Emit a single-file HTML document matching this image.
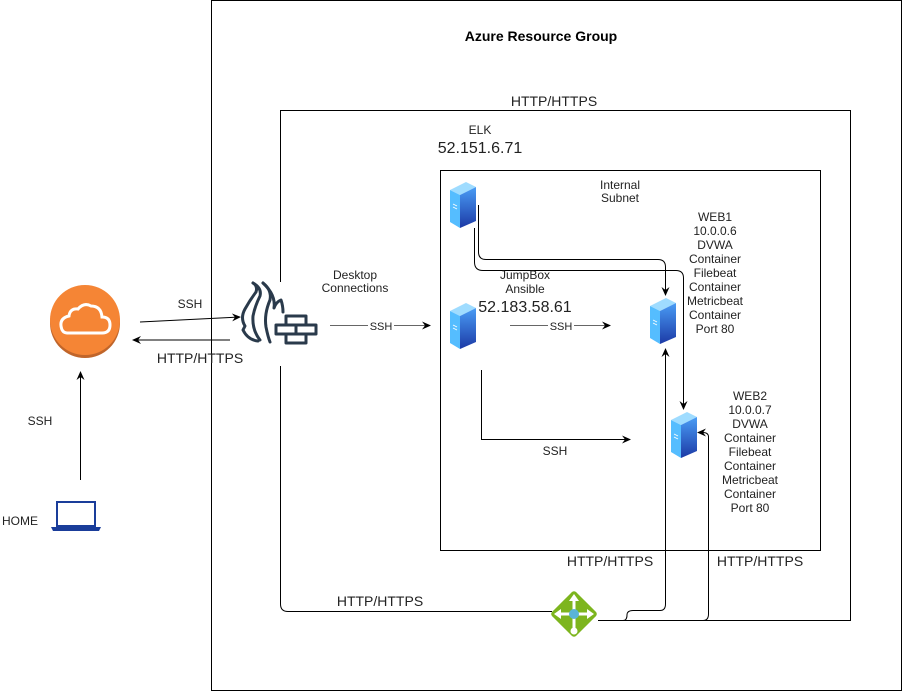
<!DOCTYPE html>
<html><head><meta charset="utf-8"><style>
html,body{margin:0;padding:0;background:#fff;}
svg{display:block;font-family:"Liberation Sans",sans-serif;}
</style></head><body>
<svg width="902" height="691" viewBox="0 0 902 691" xmlns="http://www.w3.org/2000/svg">
<defs>
<marker id="a" markerWidth="10" markerHeight="10" refX="8" refY="5" orient="auto" markerUnits="userSpaceOnUse"><path d="M0,1 L9,5 L0,9 L3,5 Z" fill="#000"/></marker>
<linearGradient id="fg" x1="0" y1="0" x2="0" y2="1"><stop offset="0" stop-color="#4a9cf5"/><stop offset="1" stop-color="#1c3aa6"/></linearGradient>
<g id="srv">
<polygon points="0,8 16,0 26,5 10,13" fill="#9fdcff"/>
<polygon points="0,8 10,13 10,46 0,40" fill="#55bdff"/>
<polygon points="10,13 26,5 26,39 10,46" fill="url(#fg)"/>
<line x1="3" y1="22" x2="7" y2="24" stroke="#fff" stroke-width="0.8"/>
<line x1="3" y1="25" x2="7" y2="27" stroke="#fff" stroke-width="0.8"/>
</g>
</defs>
<g fill="none" stroke="#000" stroke-width="1">
<rect x="211.5" y="0.5" width="690" height="690"/>
<path d="M280.5,282 V110.5 H850.5 V620.5 H600"/>
<rect x="440.5" y="170.5" width="380" height="380"/>
<line x1="140" y1="322" x2="240" y2="317" marker-end="url(#a)"/>
<line x1="230" y1="340" x2="133" y2="340" marker-end="url(#a)"/>
<line x1="80.5" y1="480" x2="80.5" y2="372" marker-end="url(#a)"/>
<line x1="330" y1="325.5" x2="430" y2="325.5" stroke="#666" marker-end="url(#a)"/>
<line x1="510" y1="325.5" x2="610" y2="325.5" stroke="#666" marker-end="url(#a)"/>
<path d="M481.5,370 V439.5 H630" marker-end="url(#a)"/>
<path d="M478.5,205 V252 Q478.5,259.5 486,259.5 H658 Q665.5,259.5 665.5,267 V295" marker-end="url(#a)"/>
<path d="M474.5,228 V262 Q474.5,270.5 483,270.5 H676 Q683.5,270.5 683.5,278 V409" marker-end="url(#a)"/>
<path d="M280.5,366 V604 Q280.5,611.5 288,611.5 H552"/>
<path d="M598,620.5 H623 Q627,620.5 627,615 Q627,610.5 633,610.5 H660 Q665.5,610.5 665.5,604 V349" marker-end="url(#a)"/>
<path d="M615,620.5 H703 Q708.5,620.5 708.5,614 V437 Q708.5,432.5 703,432.5 H698" marker-end="url(#a)"/>
</g>
<g font-size="12" fill="#222" text-anchor="middle">
<text x="541" y="41" font-weight="bold" font-size="14" fill="#000">Azure Resource Group</text>
<text x="554" y="106" font-size="14">HTTP/HTTPS</text>
<text x="480" y="134">ELK</text>
<text x="480" y="153" font-size="16">52.151.6.71</text>
<text x="620" y="189">Internal</text>
<text x="620" y="202">Subnet</text>
<g><text x="715" y="221">WEB1</text><text x="715" y="235">10.0.0.6</text><text x="715" y="249">DVWA</text><text x="715" y="263">Container</text><text x="715" y="277">Filebeat</text><text x="715" y="291">Container</text><text x="715" y="305">Metricbeat</text><text x="715" y="319">Container</text><text x="715" y="333">Port 80</text></g>
<g><text x="750" y="400">WEB2</text><text x="750" y="414">10.0.0.7</text><text x="750" y="428">DVWA</text><text x="750" y="442">Container</text><text x="750" y="456">Filebeat</text><text x="750" y="470">Container</text><text x="750" y="484">Metricbeat</text><text x="750" y="498">Container</text><text x="750" y="512">Port 80</text></g>
<text x="525" y="279">JumpBox</text>
<text x="525" y="293">Ansible</text>
<text x="525" y="312" font-size="16">52.183.58.61</text>
<text x="355" y="279">Desktop</text>
<text x="355" y="292">Connections</text>
<rect x="368" y="319" width="26" height="13" fill="#fff"/>
<text x="381" y="330" font-size="11">SSH</text>
<rect x="548" y="319" width="26" height="13" fill="#fff"/>
<text x="561" y="330" font-size="11">SSH</text>
<text x="555" y="455">SSH</text>
<text x="190" y="308">SSH</text>
<text x="200" y="363" font-size="14">HTTP/HTTPS</text>
<text x="40" y="425">SSH</text>
<text x="20" y="525" font-size="12">HOME</text>
<text x="610" y="566" font-size="14">HTTP/HTTPS</text>
<text x="760" y="566" font-size="14">HTTP/HTTPS</text>
<text x="380" y="606" font-size="14">HTTP/HTTPS</text>
</g>
<circle cx="85" cy="323" r="35" fill="#c0652a"/>
<circle cx="85" cy="320" r="35" fill="#f58535"/>
<path d="M67,333 H102 Q110,333 110,325 Q110,317 102,317 Q101,306 91,306 Q84,302 78,309 Q70,308 69,316 Q60,318 61,326 Q62,333 67,333 Z" fill="none" stroke="#fff" stroke-width="3"/>
<g fill="none" stroke="#2a3a4b" stroke-width="3" stroke-linecap="round" stroke-linejoin="round">
<path d="M253,283 Q258,286 256,292 Q250,300 245,309 Q240,318 245,326 L243,330 Q248,340 258,341"/>
<path d="M253,283 Q262,288 260,296 Q255,306 253,316 Q252,330 260,340"/>
<path d="M263,283 Q272,290 270,300 Q264,314 266,327 Q268,337 270,342"/>
<path d="M263,283 Q276,295 274,308 Q276,302 281,300 Q283,306 283,312"/>
<rect x="276" y="325" width="20" height="9"/>
<rect x="296" y="325" width="20" height="9"/>
<rect x="286" y="316" width="20" height="9"/>
<rect x="286" y="334" width="20" height="9"/>
</g>
<rect x="57" y="502" width="38" height="24" fill="none" stroke="#1a3d9a" stroke-width="2"/>
<path d="M51,527 H101 L99,531 H53 Z" fill="#1a3d9a"/>
<use href="#srv" x="450" y="182"/>
<use href="#srv" x="450" y="303"/>
<use href="#srv" x="650" y="298"/>
<use href="#srv" x="671" y="412"/>
<g transform="translate(574,614)">
<rect x="-17" y="-17" width="34" height="34" transform="rotate(45)" fill="#7db51e" rx="3"/>
<g stroke="#fff" stroke-width="3" fill="#fff">
<line x1="-16" y1="0" x2="16" y2="0"/><line x1="0" y1="-16" x2="0" y2="16"/>
</g>
<polygon points="0,-20 -5,-13 5,-13" fill="#fff"/>
<polygon points="-20,0 -13,-5 -13,5" fill="#fff"/>
<polygon points="20,0 13,-5 13,5" fill="#fff"/>
<circle cx="0" cy="17" r="3.5" fill="#fff"/>
<circle cx="0" cy="0" r="5" fill="#59b4d9"/>
</g>
</svg>
</body></html>
